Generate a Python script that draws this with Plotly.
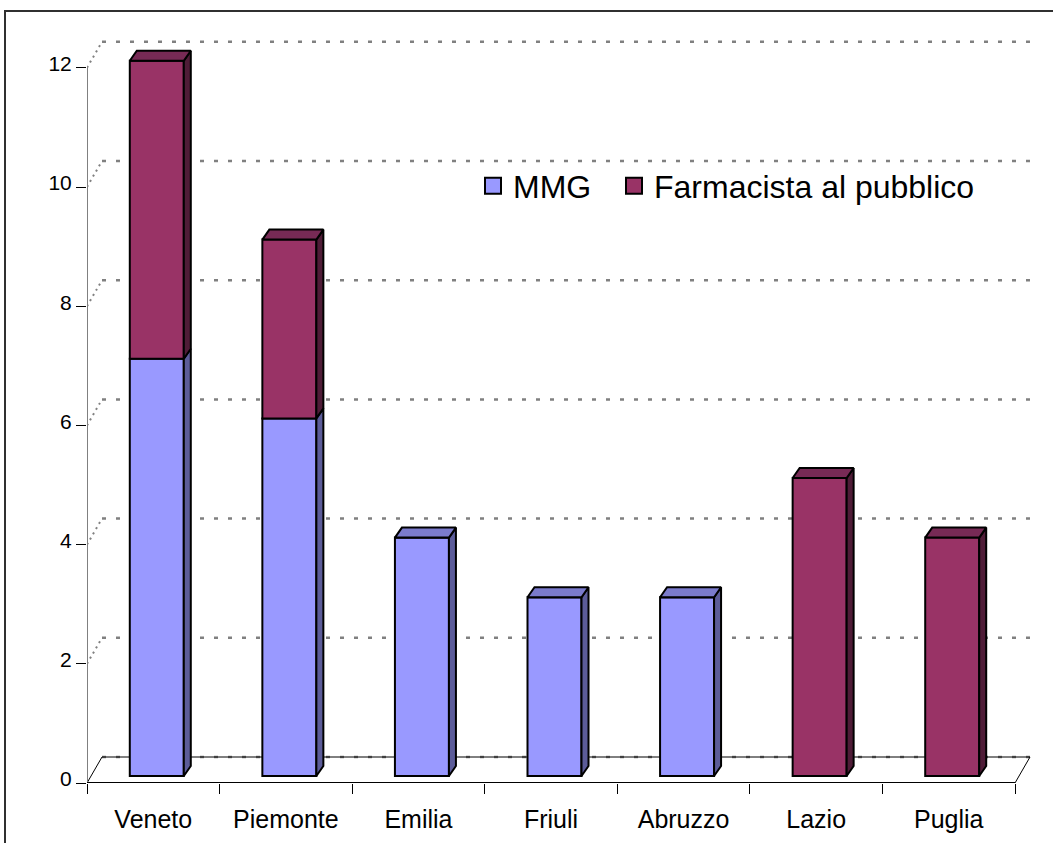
import plotly.graph_objects as go

# ---------------- data ----------------
categories = ["Veneto", "Piemonte", "Emilia", "Friuli", "Abruzzo", "Lazio", "Puglia"]
mmg = [7, 6, 4, 3, 3, 0, 0]
farmacista = [5, 3, 0, 0, 0, 5, 4]
series_names = ["MMG", "Farmacista al pubblico"]
y_ticks = [0, 2, 4, 6, 8, 10, 12]

# ---------------- styling / geometry ----------------
FONT = "Liberation Sans, Arial, sans-serif"
W, H = 1053, 843
L, T = 87, 10
PLOT_W, PLOT_H = 958, 773
CAT_PX = 928 / len(categories)   # pixels per category
PPU = 59.6                        # pixels per value unit

front_col = {"MMG": "#9999FF", "Farmacista al pubblico": "#993366"}
top_col = {"MMG": "#7B7BCC", "Farmacista al pubblico": "#772A55"}
side_col = {"MMG": "#5C5C99", "Farmacista al pubblico": "#4F1C37"}


def ux(px):
    return px / CAT_PX


def uy(px):
    return px / PPU


def paper_x(px):
    return (px - L) / PLOT_W


def paper_y(py):
    return (T + PLOT_H - py) / PLOT_H


x_lo = -0.5
x_hi = x_lo + PLOT_W / CAT_PX
y_hi = PLOT_H / PPU

BAR_W = ux(54)
BAR_SHIFT = ux(3.5)
BASE0 = uy(7)
DDX, DDY = ux(7), uy(10)      # bar depth
WDX, WDY = ux(15), uy(26)     # wall / floor depth

fig = go.Figure()

values = {"MMG": mmg, "Farmacista al pubblico": farmacista}
bases = {"MMG": [BASE0] * len(categories),
         "Farmacista al pubblico": [BASE0 + m for m in mmg]}
xs = list(range(len(categories)))

# front faces
for name in series_names:
    fig.add_trace(go.Bar(
        x=xs, y=values[name], base=bases[name], name=name,
        width=BAR_W, offset=-BAR_W / 2 + BAR_SHIFT,
        marker=dict(color=front_col[name], line=dict(color="black", width=2)),
        showlegend=False, hoverinfo="skip",
    ))

# side and top faces (3D look), derived from the values
totals = [m + f for m, f in zip(mmg, farmacista)]
for name in series_names:
    sx, sy, tx, ty = [], [], [], []
    for i, v in enumerate(values[name]):
        if v <= 0:
            continue
        b = bases[name][i]
        top = b + v
        xl = i - BAR_W / 2 + BAR_SHIFT
        xr = xl + BAR_W
        sx += [xr, xr + DDX, xr + DDX, xr, xr, None]
        sy += [b, b + DDY, top + DDY, top, b, None]
        if abs(top - (BASE0 + totals[i])) < 1e-9:
            tx += [xl, xl + DDX, xr + DDX, xr, xl, None]
            ty += [top, top + DDY, top + DDY, top, top, None]
    fig.add_trace(go.Scatter(x=sx, y=sy, mode="lines", fill="toself",
                             fillcolor=side_col[name], line=dict(color="black", width=2),
                             showlegend=False, hoverinfo="skip"))
    fig.add_trace(go.Scatter(x=tx, y=ty, mode="lines", fill="toself",
                             fillcolor=top_col[name], line=dict(color="black", width=2),
                             showlegend=False, hoverinfo="skip"))

# legend entries
legend_labels = {"MMG": "MMG\u00a0\u00a0", "Farmacista al pubblico": "Farmacista al pubblico"}
for name in series_names:
    fig.add_trace(go.Scatter(
        x=[None], y=[None], mode="markers", name=legend_labels[name],
        marker=dict(symbol="square", size=16, color=front_col[name],
                    line=dict(color="black", width=2)),
    ))

shapes = []
GRID = dict(color="#808080", width=2.5, dash="4px,10px")
for v in y_ticks:
    shapes.append(dict(type="line", xref="x", yref="y", layer="below",
                       x0=x_lo + WDX, x1=len(categories) - 0.5 + WDX,
                       y0=v + WDY, y1=v + WDY, line=GRID))
for v in y_ticks:
    if v == 0:
        ln = dict(color="black", width=1)
    else:
        ln = dict(color="#808080", width=2, dash="2px,4px")
    shapes.append(dict(type="line", xref="x", yref="y", layer="below",
                       x0=x_lo, x1=x_lo + WDX, y0=v, y1=v + WDY, line=ln))
shapes.append(dict(type="line", xref="x", yref="y", layer="below",
                   x0=x_lo + WDX, x1=len(categories) - 0.5 + WDX,
                   y0=WDY, y1=WDY, line=dict(color="black", width=1)))
shapes.append(dict(type="line", xref="x", yref="y", layer="below",
                   x0=len(categories) - 0.5, x1=len(categories) - 0.5 + WDX,
                   y0=0, y1=WDY, line=dict(color="black", width=1)))
shapes.append(dict(type="line", xref="x", yref="y", layer="below",
                   x0=x_lo, x1=x_lo, y0=0, y1=max(y_ticks),
                   line=dict(color="#808080", width=2)))
shapes.append(dict(type="line", xref="x", yref="y", layer="above",
                   x0=x_lo, x1=len(categories) - 0.5, y0=0, y1=0,
                   line=dict(color="black", width=2)))
shapes.append(dict(type="rect", xref="paper", yref="paper", layer="below",
                   x0=paper_x(464), x1=paper_x(990), y0=paper_y(296), y1=paper_y(148),
                   fillcolor="white", line=dict(width=0)))
shapes.append(dict(type="path", xref="paper", yref="paper", layer="above",
                   path=f"M {paper_x(5)},{paper_y(845)} L {paper_x(5)},{paper_y(11)} L {paper_x(1056)},{paper_y(11)}",
                   line=dict(color="#303030", width=2)))

fig.update_layout(
    width=W, height=H,
    margin=dict(l=L, r=W - L - PLOT_W, t=T, b=H - T - PLOT_H, autoexpand=False),
    paper_bgcolor="white", plot_bgcolor="white",
    barmode="overlay",
    shapes=shapes,
    font=dict(family=FONT, color="black"),
    legend=dict(orientation="h", x=paper_x(473), xanchor="left",
                y=paper_y(186), yanchor="middle",
                font=dict(family=FONT, size=32, color="black"),
                bgcolor="rgba(0,0,0,0)", itemsizing="trace"),
    xaxis=dict(range=[x_lo, x_hi], tickvals=xs, ticktext=categories,
               showgrid=False, zeroline=False, showline=False,
               ticks="outside", ticklen=14, tickcolor="rgba(0,0,0,0)",
               tickfont=dict(family=FONT, size=25, color="black"),
               minor=dict(tickvals=[i - 0.5 for i in range(len(categories) + 1)],
                          ticks="outside", ticklen=10, tickcolor="black", tickwidth=1,
                          showgrid=False),
               fixedrange=True),
    yaxis=dict(range=[0, y_hi], tickvals=y_ticks,
               showgrid=False, zeroline=False, showline=False,
               ticks="outside", ticklen=10, tickcolor="black", tickwidth=1,
               tickfont=dict(family=FONT, size=21, color="black"),
               ticklabelshift=-4, fixedrange=True),
)

fig.write_html("out.html", config={"displayModeBar": False},
               post_script="document.body.style.margin='0';")
